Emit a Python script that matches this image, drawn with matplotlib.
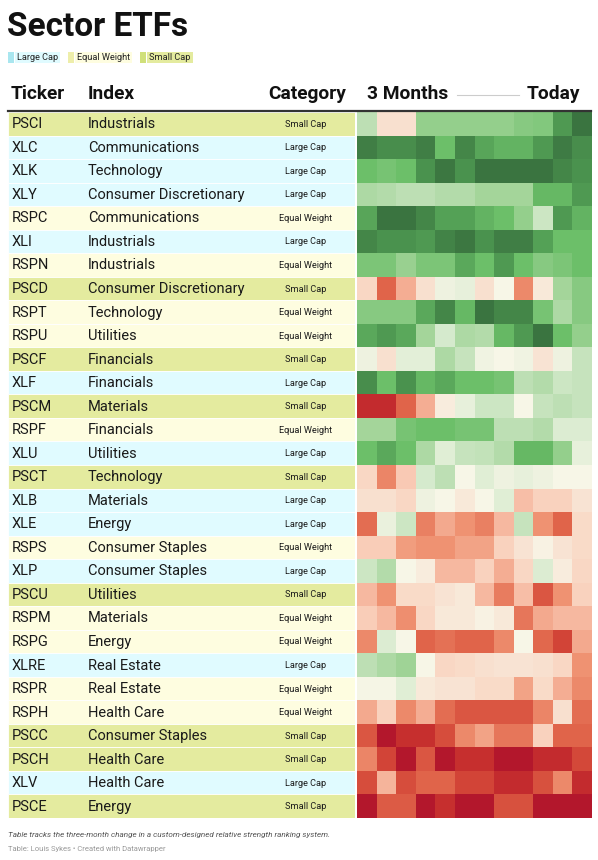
import matplotlib
matplotlib.use("Agg")
import matplotlib.pyplot as plt
from matplotlib.colors import LinearSegmentedColormap
from matplotlib.patches import Rectangle
import numpy as np

plt.rcParams['font.family'] = ['Roboto', 'DejaVu Sans']

tickers = ["PSCI", "XLC", "XLK", "XLY", "RSPC", "XLI", "RSPN", "PSCD", "RSPT", "RSPU",
           "PSCF", "XLF", "PSCM", "RSPF", "XLU", "PSCT", "XLB", "XLE", "RSPS", "XLP",
           "PSCU", "RSPM", "RSPG", "XLRE", "RSPR", "RSPH", "PSCC", "PSCH", "XLV", "PSCE"]
indexes = ["Industrials", "Communications", "Technology", "Consumer Discretionary", "Communications",
           "Industrials", "Industrials", "Consumer Discretionary", "Technology", "Utilities",
           "Financials", "Financials", "Materials", "Financials", "Utilities",
           "Technology", "Materials", "Energy", "Consumer Staples", "Consumer Staples",
           "Utilities", "Materials", "Energy", "Real Estate", "Real Estate",
           "Health Care", "Consumer Staples", "Health Care", "Health Care", "Energy"]
categories = ["Small Cap", "Large Cap", "Large Cap", "Large Cap", "Equal Weight",
              "Large Cap", "Equal Weight", "Small Cap", "Equal Weight", "Equal Weight",
              "Small Cap", "Large Cap", "Small Cap", "Equal Weight", "Large Cap",
              "Small Cap", "Large Cap", "Large Cap", "Equal Weight", "Large Cap",
              "Small Cap", "Equal Weight", "Equal Weight", "Large Cap", "Equal Weight",
              "Equal Weight", "Small Cap", "Small Cap", "Large Cap", "Small Cap"]

# relative strength change over 12 periods (3 months -> today), scale -5..5
strength = [
    [1.5, -0.5, -0.5, 2.3, 2.3, 2.3, 2.3, 2.3, 2.5, 2.6, 4.0, 5.0],
    [4.7, 4.3, 4.3, 4.7, 3.0, 4.5, 3.7, 3.3, 3.3, 4.0, 4.8, 4.3],
    [3.0, 2.8, 3.0, 4.2, 4.9, 4.2, 5.0, 5.0, 5.0, 5.0, 4.5, 4.2],
    [1.8, 1.7, 1.5, 1.5, 1.7, 1.7, 2.0, 2.0, 2.0, 3.2, 3.2, 4.0],
    [3.7, 5.0, 5.0, 4.5, 3.8, 3.8, 3.3, 3.0, 2.3, 1.2, 4.0, 3.3],
    [4.5, 4.2, 4.2, 4.0, 4.6, 4.9, 4.2, 4.7, 4.7, 3.8, 3.0, 3.0],
    [2.7, 2.7, 2.2, 2.7, 2.7, 3.6, 3.0, 4.0, 3.0, 2.5, 2.7, 3.0],
    [-0.7, -3.0, -1.5, -0.5, 0.3, 0.5, -0.5, 0.0, -2.2, -0.3, 2.0, 2.5],
    [2.5, 2.5, 2.5, 3.6, 4.5, 3.2, 5.0, 4.5, 4.5, 2.8, 1.8, 2.5],
    [3.6, 4.0, 3.6, 2.0, 1.0, 1.8, 1.7, 3.2, 4.0, 5.0, 3.0, 2.3],
    [0.3, -0.5, 0.6, 0.6, 1.8, 1.3, 0.2, 0.0, 0.2, -0.4, 0.3, 1.3],
    [4.3, 3.0, 4.2, 3.2, 3.6, 3.0, 3.0, 2.8, 1.5, 1.7, 1.2, 1.3],
    [-4.3, -4.3, -3.0, -1.5, -0.2, 0.5, 1.2, 1.2, 0.0, 1.3, 1.5, 1.3],
    [2.0, 2.0, 2.8, 3.0, 3.0, 2.8, 2.8, 1.5, 1.5, 1.7, 0.8, 0.8],
    [3.0, 3.6, 3.0, 1.8, 0.7, 1.3, 1.4, 1.7, 3.2, 3.2, 2.3, 0.5],
    [-0.7, -2.3, -1.0, 1.0, 1.5, 0.0, 0.7, 0.3, 0.5, 0.3, 0.0, 0.0],
    [-0.5, -0.5, -0.7, 0.3, 0.0, -0.3, 0.0, 0.7, -1.2, -0.8, -0.8, -0.4],
    [-2.8, 0.4, 1.2, -2.4, -1.6, -2.0, -2.4, -1.3, 1.3, -2.0, -3.0, -0.6],
    [-0.9, -0.9, -1.8, -2.0, -2.0, -1.7, -1.7, -0.8, -0.4, -0.1, -0.4, -0.6],
    [1.2, 1.7, 0.0, -0.2, -1.3, -1.3, -0.8, -1.5, -0.7, 0.8, -0.2, -0.7],
    [-1.3, -2.0, -0.6, -0.6, -0.4, -0.3, -1.3, -2.5, -1.2, -3.3, -2.0, -0.8],
    [-0.9, -1.3, -2.1, -0.7, -0.3, -0.3, -0.1, -0.3, -2.6, -1.6, -1.3, -1.3],
    [-2.2, 0.8, 0.0, -3.0, -2.7, -3.0, -3.0, -2.2, 0.0, -2.9, -3.7, -1.6],
    [1.5, 1.8, 2.1, 0.0, -0.7, -0.6, -0.5, -0.4, -0.4, -0.5, -0.7, -2.0],
    [0.1, 0.1, 0.7, -0.3, -0.4, -0.4, -0.6, -0.6, -1.7, -0.6, -1.5, -2.2],
    [-1.6, -0.8, -2.2, -1.5, -2.8, -3.3, -3.3, -3.3, -3.3, -2.3, -0.5, -2.8],
    [-3.3, -4.9, -4.2, -4.2, -3.5, -2.2, -1.7, -2.6, -2.6, -0.8, -3.0, -3.0],
    [-2.3, -3.7, -4.9, -3.3, -4.9, -4.2, -4.2, -4.9, -4.9, -4.3, -4.3, -3.6],
    [-3.5, -1.4, -3.5, -3.0, -3.0, -3.7, -3.7, -4.3, -4.3, -3.4, -2.2, -4.3],
    [-4.9, -3.2, -3.2, -4.9, -4.2, -4.9, -4.9, -3.4, -3.4, -4.9, -4.9, -4.9],
]

legend_labels = ["Large Cap", "Equal Weight", "Small Cap"]

cat_bg = {"Large Cap": "#e0fbff", "Equal Weight": "#fefde0", "Small Cap": "#e4eb9f"}
cat_sw = {"Large Cap": "#a9e6ef", "Equal Weight": "#eeeeaa", "Small Cap": "#d0e07a"}

cmap = LinearSegmentedColormap.from_list("rs", [
    (0.0, "#b1142c"), (0.1, "#cc372f"), (0.2, "#e0644a"), (0.3, "#ef9373"),
    (0.4, "#f9c9b4"), (0.5, "#f8f6e8"), (0.6, "#d5eacd"), (0.7, "#a5d59b"),
    (0.8, "#6cbf69"), (0.9, "#4f9a52"), (1.0, "#3a7440")])

W, H = 598, 860
fig = plt.figure(figsize=(W / 100, H / 100), dpi=100)
fig.patch.set_facecolor("white")

top, bottom = 112, 818
n = len(tickers)
rh = (bottom - top) / n

# table rows (background by category)
tab = fig.add_axes([8 / W, 1 - bottom / H, (355 - 8) / W, (bottom - top) / H])
tab.set_xlim(0, 1)
tab.set_ylim(n, 0)
tab.axis("off")
ypos = np.arange(n) + 0.5
tab.barh(ypos, [1] * n, height=1, left=0, color=[cat_bg[c] for c in categories],
         edgecolor="white", linewidth=0.6)

# heatmap
hm = fig.add_axes([357 / W, 1 - bottom / H, (592 - 357) / W, (bottom - top) / H])
data = np.array(strength)
hm.pcolormesh(np.arange(data.shape[1] + 1), np.arange(n + 1), data, cmap=cmap, vmin=-5, vmax=5)
hm.set_xlim(0, data.shape[1])
hm.set_ylim(n, 0)
hm.axis("off")

# overlay axes in pixel coordinates for text
ax = fig.add_axes([0, 0, 1, 1])
ax.set_xlim(0, W)
ax.set_ylim(H, 0)
ax.axis("off")
ax.set_zorder(10)

ax.text(7, 27, "Sector ETFs", fontsize=24, fontweight="bold", va="center", ha="left", color="#111111")

# legend
lx = 8
for lab in legend_labels:
    ax.add_patch(Rectangle((lx, 52), 6, 11, color=cat_sw[lab], lw=0))
    t = ax.text(lx + 9, 58, lab, fontsize=6.6, va="center", ha="left", color="#222222")
    fig.canvas.draw()
    tw = t.get_window_extent().width
    ax.add_patch(Rectangle((lx + 7, 52), tw + 4, 11, color=cat_bg[lab], lw=0, zorder=0))
    lx = lx + 9 + tw + 10

# headers
hy = 94
hs = 13.8
ax.text(11, hy, "Ticker", fontsize=hs, fontweight="bold", va="center", ha="left", color="#111111")
ax.text(88, hy, "Index", fontsize=hs, fontweight="bold", va="center", ha="left", color="#111111")
ax.text(346, hy, "Category", fontsize=hs, fontweight="bold", va="center", ha="right", color="#111111")
ax.text(367, hy, "3 Months", fontsize=hs, fontweight="bold", va="center", ha="left", color="#111111")
ax.text(580, hy, "Today", fontsize=hs, fontweight="bold", va="center", ha="right", color="#111111")
ax.plot([457, 519], [95, 95], color="#cccccc", lw=0.8)
ax.plot([8, 591], [111, 111], color="#333333", lw=1.6)

for i in range(n):
    y = top + (i + 0.5) * rh
    ax.text(12, y + 0.5, tickers[i], fontsize=10.5, va="center", ha="left", color="#1a1a1a")
    ax.text(88, y + 0.5, indexes[i], fontsize=10.5, va="center", ha="left", color="#1a1a1a")
    ax.text(306, y + 0.5, categories[i], fontsize=6.6, va="center", ha="center", color="#1a1a1a")

ax.text(8, 835, "Table tracks the three-month change in a custom-designed relative strength ranking system.",
        fontsize=5.9, style="italic", va="center", ha="left", color="#555555")
ax.text(8, 849, "Table: Louis Sykes \u2022 Created with Datawrapper",
        fontsize=5.5, va="center", ha="left", color="#999999")

fig.savefig("out.png", dpi=100, facecolor="white")
